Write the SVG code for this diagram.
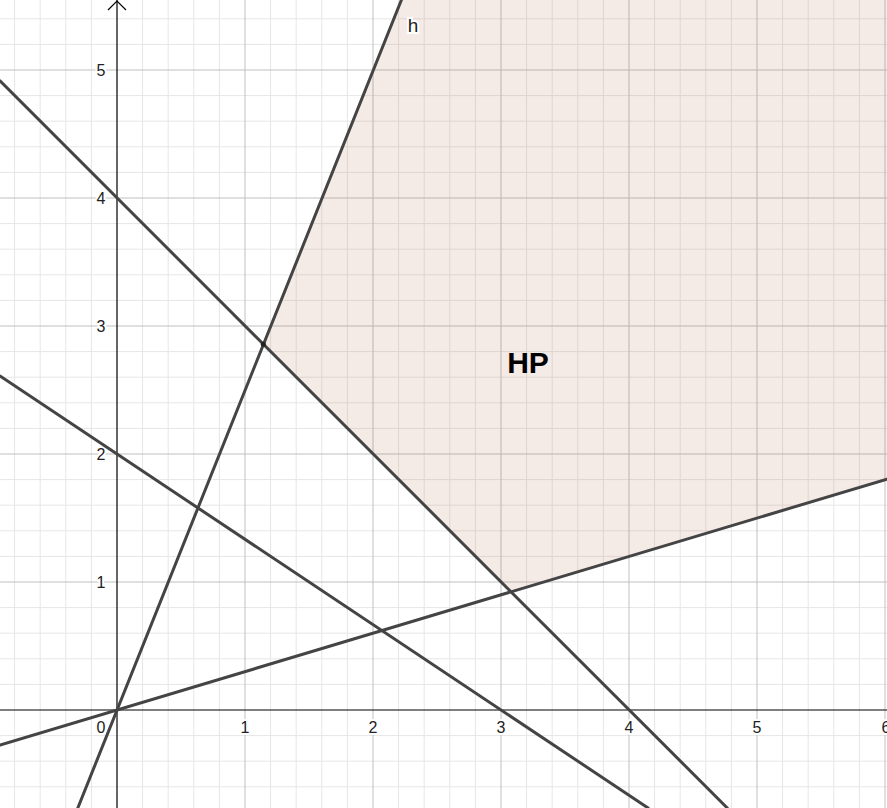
<svg xmlns="http://www.w3.org/2000/svg" width="887" height="808" viewBox="0 0 887 808">
<style>
.minor{stroke:#e6e6e6;stroke-width:1;fill:none}
.major{stroke:#c0c0c0;stroke-width:1;fill:none}
.axis{stroke:#000;stroke-width:1.2;fill:none}
.ln{stroke:#444;stroke-width:3;fill:none;stroke-linecap:round}
.lbl{font-family:"Liberation Sans",Arial,sans-serif;font-size:16px;fill:#222;stroke:#fff;stroke-width:4;paint-order:stroke;stroke-linejoin:round}
</style>
<rect width="887" height="808" fill="#fff"/>
<g id="grid">
<path class="minor" d="M14.6 0V808M40.2 0V808M65.8 0V808M91.4 0V808M142.6 0V808M168.2 0V808M193.8 0V808M219.4 0V808M270.6 0V808M296.2 0V808M321.8 0V808M347.4 0V808M398.6 0V808M424.2 0V808M449.8 0V808M475.4 0V808M526.6 0V808M552.2 0V808M577.8 0V808M603.4 0V808M654.6 0V808M680.2 0V808M705.8 0V808M731.4 0V808M782.6 0V808M808.2 0V808M833.8 0V808M859.4 0V808M0 786.8H887M0 761.2H887M0 735.6H887M0 684.4H887M0 658.8H887M0 633.2H887M0 607.6H887M0 556.4H887M0 530.8H887M0 505.2H887M0 479.6H887M0 428.4H887M0 402.8H887M0 377.2H887M0 351.6H887M0 300.4H887M0 274.8H887M0 249.2H887M0 223.6H887M0 172.4H887M0 146.8H887M0 121.2H887M0 95.6H887M0 44.4H887M0 18.8H887"/>
<path class="major" d="M245 0V808M373 0V808M501 0V808M629 0V808M757 0V808M885 0V808M0 582H887M0 454H887M0 326H887M0 198H887M0 70H887"/>
</g>
<g id="HP">
<polygon points="401.4,0 887,0 887,479.1 510.8,591.8 263.3,344.3" fill="#b5725a" fill-opacity="0.15"/>
<text x="528" y="373" font-family="Liberation Sans,Arial,sans-serif" font-size="30" font-weight="bold" fill="#000" text-anchor="middle">HP</text>
</g>
<g id="axes">
<path class="axis" d="M117 0V808M0 710H887"/>
<path class="axis" d="M108 10L117 1L126 10"/>
<g class="lbl" text-anchor="middle">
<text x="101" y="733">0</text>
<text x="245" y="733">1</text>
<text x="373" y="733">2</text>
<text x="501" y="733">3</text>
<text x="629" y="733">4</text>
<text x="757" y="733">5</text>
<text x="886" y="733">6</text>
<text x="101" y="588">1</text>
<text x="101" y="460">2</text>
<text x="101" y="332">3</text>
<text x="101" y="204">4</text>
<text x="101" y="76">5</text>
</g>
</g>
<g id="connectors">
<path id="h" class="ln" d="M401.4 0L77.8 808"/>
<path class="ln" d="M0 80.9L727.3 808"/>
<path class="ln" d="M0 376L648.1 808"/>
<path class="ln" d="M0 745.1L887 479.1"/>
<circle cx="263.3" cy="344.3" r="2.5" fill="#222"/>
</g>
<g id="label-h">
<text x="413" y="32" font-family="Liberation Sans,Arial,sans-serif" font-size="19" fill="#222" stroke="#fff" stroke-width="4" paint-order="stroke" text-anchor="middle">h</text>
</g>
</svg>
